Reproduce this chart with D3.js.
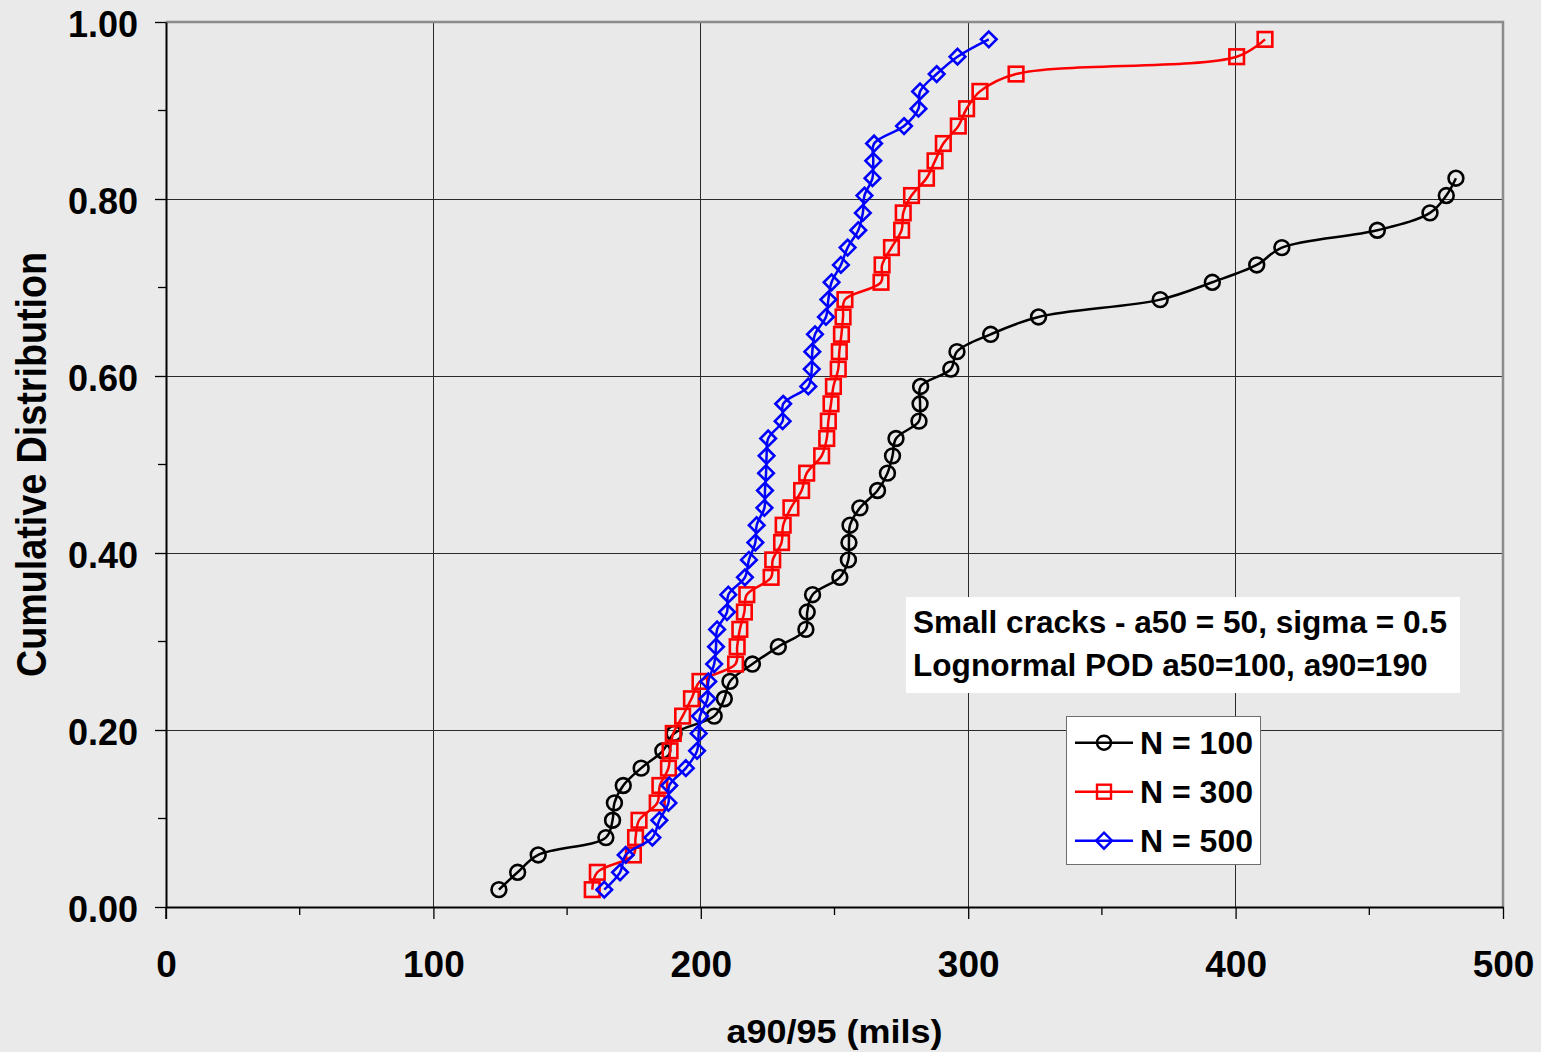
<!DOCTYPE html>
<html>
<head>
<meta charset="utf-8">
<script src="https://cdn.jsdelivr.net/npm/d3@7"></script>
<style>
  html, body { margin: 0; padding: 0; background: #eaeaea; }
  svg { display: block; font-family: "Liberation Sans", Arial, sans-serif; font-weight: bold; }
</style>
</head>
<body>
<svg id="chart" width="1541" height="1052"></svg>
<script>
// Cumulative probability (plotting positions) shared by all three samples
const cumProb = [
  0.0196, 0.0392, 0.0588, 0.0784, 0.0980, 0.1176, 0.1373, 0.1569, 0.1765, 0.1961,
  0.2157, 0.2353, 0.2549, 0.2745, 0.2941, 0.3137, 0.3333, 0.3529, 0.3725, 0.3922,
  0.4118, 0.4314, 0.4510, 0.4706, 0.4902, 0.5098, 0.5294, 0.5490, 0.5686, 0.5882,
  0.6078, 0.6275, 0.6471, 0.6667, 0.6863, 0.7059, 0.7255, 0.7451, 0.7647, 0.7843,
  0.8039, 0.8235, 0.8431, 0.8627, 0.8824, 0.9020, 0.9216, 0.9412, 0.9608, 0.9804
];

// Sorted a90/95 estimates (mils) for each sample size
const a9095N100 = [
  124.5, 131.5, 139.2, 164.5, 167.0, 167.7, 171.0, 177.7, 185.8, 190.0,
  205.0, 208.8, 210.9, 219.3, 229.0, 239.3, 239.8, 241.8, 252.0, 255.2,
  255.4, 255.8, 259.5, 266.1, 269.8, 271.7, 273.0, 281.6, 282.0, 282.2,
  293.5, 295.8, 308.4, 326.3, 371.8, 391.3, 407.9, 417.3, 453.0, 472.7,
  478.8, 482.4
];
const a9095N300 = [
  159.4, 161.3, 174.8, 175.6, 176.9, 183.7, 184.7, 187.9, 188.5, 189.7,
  193.2, 196.5, 199.7, 213.0, 213.6, 214.6, 216.3, 217.2, 226.3, 226.9,
  230.2, 230.8, 233.7, 237.7, 239.6, 245.2, 247.1, 247.7, 248.7, 249.6,
  251.4, 251.8, 252.6, 253.2, 253.9, 267.4, 267.8, 271.3, 275.1, 275.7,
  278.8, 284.4, 287.6, 290.7, 296.3, 299.4, 304.4, 317.9, 400.4, 411.0
];
const a9095N500 = [
  163.9, 169.8, 171.9, 181.9, 184.5, 187.9, 188.2, 194.4, 198.6, 199.2,
  199.7, 202.5, 202.8, 205.0, 205.7, 206.1, 209.8, 210.3, 216.5, 218.0,
  220.4, 220.9, 223.8, 224.0, 224.4, 224.6, 225.2, 230.6, 230.8, 240.2,
  241.5, 241.7, 242.7, 246.8, 247.7, 248.9, 252.4, 254.9, 258.9, 260.6,
  261.2, 264.2, 264.5, 264.8, 276.0, 281.4, 282.0, 288.2, 296.0, 307.7
];

const seriesNames = ["N = 100", "N = 300", "N = 500"];
const seriesColors = ["#000000", "#ff0000", "#0000ff"];
const seriesMarkers = ["circle", "square", "diamond"];

const xTicks = [0, 100, 200, 300, 400, 500];
const xMinorTicks = [50, 150, 250, 350, 450];
const yTicks = [0, 0.2, 0.4, 0.6, 0.8, 1.0];
const yMinorTicks = [0.1, 0.3, 0.5, 0.7, 0.9];

const xTitle = "a90/95 (mils)";
const yTitle = "Cumulative Distribution";
const noteLines = ["Small cracks - a50 = 50, sigma = 0.5", "Lognormal POD a50=100, a90=190"];

// ---- layout ----
const W = 1541, H = 1052;
const plot = { left: 166, right: 1503, top: 22, bottom: 907 };

const svg = d3.select("#chart");
svg.append("rect").attr("width", W).attr("height", H).attr("fill", "#eaeaea");

const x = d3.scaleLinear().domain([0, 500]).range([plot.left, plot.right]);
const y = d3.scaleLinear().domain([0, 1]).range([plot.bottom, plot.top]);

// plot area
svg.append("rect")
  .attr("x", plot.left).attr("y", plot.top)
  .attr("width", plot.right - plot.left).attr("height", plot.bottom - plot.top)
  .attr("fill", "#e9e9e9");

// gridlines
const grid = svg.append("g").attr("stroke", "#2a2a2a").attr("stroke-width", 1).attr("shape-rendering", "crispEdges");
grid.selectAll(".gx").data(xTicks.filter(d => d > 0 && d < 500)).join("line")
  .attr("x1", d => x(d)).attr("x2", d => x(d))
  .attr("y1", plot.top).attr("y2", plot.bottom);
grid.selectAll(".gy").data(yTicks.filter(d => d > 0 && d < 1)).join("line")
  .attr("x1", plot.left).attr("x2", plot.right)
  .attr("y1", d => y(d)).attr("y2", d => y(d));

// top and right frame
svg.append("path")
  .attr("d", `M${plot.left},${plot.top}H${plot.right}V${plot.bottom}`)
  .attr("fill", "none").attr("stroke", "#8c8c8c").attr("stroke-width", 2.5);

// axes
const xAxis = d3.axisBottom(x).tickValues(xTicks).tickSize(12).tickSizeOuter(0).tickFormat(d3.format("d"));
const gx = svg.append("g").attr("transform", `translate(0,${plot.bottom})`).call(xAxis);
gx.select(".domain").attr("stroke", "#000").attr("stroke-width", 2);
gx.selectAll(".tick line").attr("stroke", "#000").attr("stroke-width", 1.3);
gx.selectAll(".tick text")
  .attr("y", 70).attr("dy", null)
  .attr("font-size", 37).attr("font-weight", "bold")
  .attr("font-family", "'Liberation Sans', Arial, sans-serif").attr("fill", "#000");
gx.selectAll(".minor").data(xMinorTicks).join("line")
  .attr("x1", d => x(d)).attr("x2", d => x(d)).attr("y1", 0).attr("y2", 8)
  .attr("stroke", "#000").attr("stroke-width", 1.3);

const yAxis = d3.axisLeft(y).tickValues(yTicks).tickSize(11).tickSizeOuter(0).tickFormat(d3.format(".2f"));
const gy = svg.append("g").attr("transform", `translate(${plot.left},0)`).call(yAxis);
gy.select(".domain").attr("stroke", "#000").attr("stroke-width", 2);
gy.selectAll(".tick line").attr("stroke", "#000").attr("stroke-width", 1.3);
gy.selectAll(".tick text")
  .attr("x", -28).attr("dy", 14)
  .attr("font-size", 36).attr("font-weight", "bold")
  .attr("font-family", "'Liberation Sans', Arial, sans-serif").attr("fill", "#000");
gy.selectAll(".minor").data(yMinorTicks).join("line")
  .attr("x1", -8).attr("x2", 0).attr("y1", d => y(d)).attr("y2", d => y(d))
  .attr("stroke", "#000").attr("stroke-width", 1.3);
// y-axis line continues down to the x-axis tick at zero
svg.append("line").attr("x1", plot.left).attr("x2", plot.left)
  .attr("y1", plot.bottom).attr("y2", plot.bottom + 12)
  .attr("stroke", "#000").attr("stroke-width", 1.5);

// axis titles
svg.append("text")
  .attr("x", (plot.left + plot.right) / 2).attr("y", 1043)
  .attr("text-anchor", "middle").attr("font-size", 34)
  .attr("textLength", 216).attr("lengthAdjust", "spacingAndGlyphs")
  .text(xTitle);
svg.append("text")
  .attr("transform", `translate(46,${(plot.top + plot.bottom) / 2}) rotate(-90)`)
  .attr("text-anchor", "middle").attr("font-size", 42)
  .attr("textLength", 425).attr("lengthAdjust", "spacingAndGlyphs")
  .text(yTitle);

// ---- series ----
svg.append("clipPath").attr("id", "plotClip").append("rect")
  .attr("x", plot.left - 10).attr("y", plot.top - 10)
  .attr("width", plot.right - plot.left + 20).attr("height", plot.bottom - plot.top + 20);

const seriesData = [a9095N100, a9095N300, a9095N500].map(vals =>
  vals.map((v, i) => ({ a: v, p: cumProb[i] })));

const line = d3.line().x(d => x(d.a)).y(d => y(d.p)).curve(d3.curveCatmullRom.alpha(0.5));

function drawMarker(g, kind, color, size, sw) {
  if (kind === "circle") {
    g.append("circle").attr("r", size).attr("fill", "none").attr("stroke", color).attr("stroke-width", sw);
  } else if (kind === "square") {
    g.append("rect").attr("x", -size).attr("y", -size).attr("width", 2 * size).attr("height", 2 * size)
      .attr("fill", "none").attr("stroke", color).attr("stroke-width", sw);
  } else {
    const s = size + 1;
    g.append("path").attr("d", `M0,${-s}L${s},0L0,${s}L${-s},0Z`)
      .attr("fill", "none").attr("stroke", color).attr("stroke-width", sw);
  }
}

const markerSize = [7.4, 7.3, 6.8];
const seriesG = svg.append("g").attr("clip-path", "url(#plotClip)");
seriesData.forEach((data, si) => {
  const g = seriesG.append("g");
  g.append("path").datum(data).attr("d", line)
    .attr("fill", "none").attr("stroke", seriesColors[si]).attr("stroke-width", 2.5);
  g.selectAll(".m").data(data).join("g")
    .attr("transform", d => `translate(${x(d.a)},${y(d.p)})`)
    .each(function () { drawMarker(d3.select(this), seriesMarkers[si], seriesColors[si], markerSize[si], 2.6); });
});

// ---- annotation box ----
const note = svg.append("g");
note.append("rect").attr("x", 906).attr("y", 597).attr("width", 554).attr("height", 96).attr("fill", "#ffffff");
note.selectAll("text").data(noteLines).join("text")
  .attr("x", 913).attr("y", (d, i) => [633, 676][i])
  .attr("font-size", 31.6).attr("fill", "#000")
  .text(d => d);

// ---- legend ----
const legend = svg.append("g");
legend.append("rect").attr("x", 1066.5).attr("y", 716.5).attr("width", 194).attr("height", 148)
  .attr("fill", "#ffffff").attr("stroke", "#6e6e6e").attr("stroke-width", 1);
const rowY = [742.7, 791.7, 840.7];
seriesNames.forEach((name, i) => {
  const row = legend.append("g").attr("transform", `translate(0,${rowY[i]})`);
  row.append("line").attr("x1", 1075).attr("x2", 1133).attr("y1", 0).attr("y2", 0)
    .attr("stroke", seriesColors[i]).attr("stroke-width", 2.4);
  const m = row.append("g").attr("transform", "translate(1104,0)");
  drawMarker(m, seriesMarkers[i], seriesColors[i], 7, 2.4);
  row.append("text").attr("x", 1140).attr("y", 11).attr("font-size", 32).attr("fill", "#000").text(name);
});
</script>
</body>
</html>
